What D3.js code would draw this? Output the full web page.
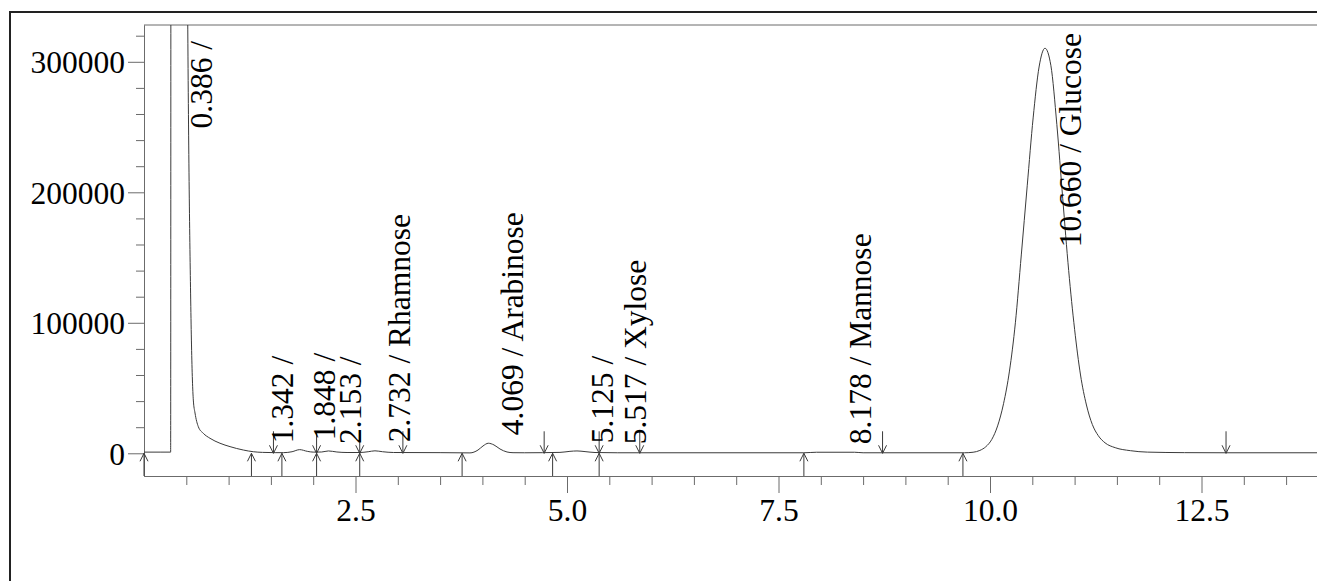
<!DOCTYPE html>
<html>
<head>
<meta charset="utf-8">
<script src="https://cdn.jsdelivr.net/npm/d3@7"></script>
<style>
  html, body { margin: 0; padding: 0; background: #fff; }
  svg { display: block; font-family: "Liberation Serif", "Times New Roman", serif; }
</style>
</head>
<body>
<div id="chart"></div>
<script>
// chromatogram trace, [retention time (min), detector response]
const trace = [
    [0.00, 900], [0.20, 900], [0.315, 900], [0.322, 1200000], [0.386, 1600000],
    [0.47, 1000000], [0.5165, 335000], [0.552, 117500], [0.5615, 83000], [0.583, 40800],
    [0.603, 30900], [0.642, 20400], [0.701, 15300], [0.780, 11500], [0.898, 7700],
    [1.017, 5100], [1.174, 2500], [1.292, 1200], [1.40, 700], [1.55, 500],
    [1.65, 500], [1.75, 1200], [1.84, 2800], [1.93, 1500], [2.00, 900],
    [2.10, 1000], [2.18, 1800], [2.28, 1000], [2.40, 600], [2.55, 600],
    [2.65, 1200], [2.73, 1900], [2.82, 1200], [2.95, 600], [3.50, 500],
    [3.853, 300], [3.948, 2500], [4.007, 5600], [4.070, 7700], [4.137, 6400],
    [4.208, 3300], [4.291, 1000], [4.362, 460], [4.50, 400], [4.917, 700],
    [5.035, 1500], [5.118, 1800], [5.213, 1300], [5.331, 600], [5.60, 400],
    [7.80, 400], [7.95, 800], [8.40, 800], [8.50, 400], [9.70, 400],
    [9.80, 800], [9.88, 2200], [9.95, 5000], [10.02, 10500], [10.09, 21000],
    [10.16, 38000], [10.23, 63000], [10.30, 100000], [10.37, 152000], [10.44, 205000],
    [10.51, 257000], [10.58, 296000], [10.65, 310400], [10.72, 297000], [10.79, 252000],
    [10.86, 195000], [10.93, 140000], [11.00, 95000], [11.07, 60000], [11.14, 37000],
    [11.21, 22000], [11.28, 13500], [11.36, 8000], [11.48, 4300], [11.66, 2000],
    [11.86, 900], [12.30, 500], [12.80, 400], [14.00, 400]
]

// peak table
const peakRT = [0.386, 1.342, 1.848, 2.153, 2.732, 4.069, 5.125, 5.517, 8.178, 10.660]
const peakName = ['', '', '', '', 'Rhamnose', 'Arabinose', '', 'Xylose', 'Mannose', 'Glucose']
const peakHeight = [1600000, 1500, 3800, 1000, 2300, 7700, 1500, 400, 800, 310400]

// integration markers
const peakStart = [0.0, 1.27, 1.63, 2.04, 2.55, 3.76, 4.83, 5.38, 7.80, 9.68]
const peakEnd = [1.53, 2.04, 2.55, 3.06, 4.73, 5.38, 5.86, 8.73, 12.79]

// ticks
const xMajor = [2.5, 5.0, 7.5, 10.0, 12.5]
const yMajor = [0, 100000, 200000, 300000]

const W = 1317
const H = 581
const FONT = 31.5
const AXIS_COLOR = '#6b6b6b'
const LINE_COLOR = '#3a3a3a'

const x = d3.scaleLinear().domain([0, 14]).range([144, 1328.4])
const y = d3.scaleLinear().domain([-17400, 328200]).range([476, 25])

const svg = d3.select('#chart').append('svg')
    .attr('width', W)
    .attr('height', H)

// outer frame
svg.append('rect')
    .attr('x', 10).attr('y', 12)
    .attr('width', 1400).attr('height', 700)
    .attr('fill', 'none')
    .attr('stroke', '#222')
    .attr('stroke-width', 2)

// plot box top edge
svg.append('line')
    .attr('x1', x(0)).attr('x2', W + 20)
    .attr('y1', y.range()[1]).attr('y2', y.range()[1])
    .attr('stroke', AXIS_COLOR)

svg.append('clipPath').attr('id', 'plot-clip')
    .append('rect')
    .attr('x', x(0)).attr('y', y.range()[1])
    .attr('width', x.range()[1] - x(0))
    .attr('height', y.range()[0] - y.range()[1])

function styleAxis (g) {
    g.selectAll('.domain').attr('stroke', AXIS_COLOR)
    g.selectAll('.tick line').attr('stroke', AXIS_COLOR)
    g.selectAll('.tick text')
        .attr('fill', '#000')
        .style('font-size', FONT + 'px')
        .style('font-family', '"Liberation Serif", "Times New Roman", serif')
}

// y axis, minor then major
svg.append('g')
    .attr('transform', `translate(${x(0)},0)`)
    .call(d3.axisLeft(y)
        .tickValues(d3.range(20000, y.domain()[1], 20000).filter(v => v % 100000 !== 0))
        .tickSize(8).tickSizeOuter(0).tickFormat(''))
    .call(styleAxis)

svg.append('g')
    .attr('transform', `translate(${x(0)},0)`)
    .call(d3.axisLeft(y).tickValues(yMajor).tickSize(16).tickSizeOuter(0)
        .tickPadding(3).tickFormat(d3.format('d')))
    .call(styleAxis)
    .call(g => g.selectAll('.tick text').attr('dy', '0.34em'))

// x axis, minor then major
svg.append('g')
    .attr('transform', `translate(0,${y.range()[0]})`)
    .call(d3.axisBottom(x)
        .tickValues(d3.range(0.5, 14, 0.5).filter(v => v % 2.5 !== 0))
        .tickSize(9).tickSizeOuter(0).tickFormat(''))
    .call(styleAxis)

svg.append('g')
    .attr('transform', `translate(0,${y.range()[0]})`)
    .call(d3.axisBottom(x).tickValues(xMajor).tickSize(17).tickSizeOuter(0)
        .tickPadding(6).tickFormat(d3.format('.1f')))
    .call(styleAxis)

// signal
const line = d3.line()
    .x(d => x(d[0]))
    .y(d => y(d[1]))
    .curve(d3.curveMonotoneX)

svg.append('g').attr('clip-path', 'url(#plot-clip)')
    .append('path')
    .datum(trace)
    .attr('d', line)
    .attr('fill', 'none')
    .attr('stroke', LINE_COLOR)
    .attr('stroke-width', 1)

// start markers (arrow up from the axis), end markers (arrow down onto the trace)
const marks = svg.append('g')
    .attr('stroke', LINE_COLOR)
    .attr('fill', 'none')
    .attr('stroke-width', 1)

marks.selectAll('path.start')
    .data(peakStart)
    .join('path')
    .attr('class', 'start')
    .attr('d', t => {
        const px = x(t), y0 = y(0)
        return `M${px},${y.range()[0]}V${y0}M${px - 4},${y0 + 8}L${px},${y0}L${px + 4},${y0 + 8}`
    })

marks.selectAll('path.end')
    .data(peakEnd)
    .join('path')
    .attr('class', 'end')
    .attr('d', t => {
        const px = x(t), y0 = y(0)
        return `M${px},${y0 - 22}V${y0}M${px - 4},${y0 - 8}L${px},${y0}L${px + 4},${y0 - 8}`
    })

// peak labels, rotated, pushed down when they would run off the top
const peaks = peakRT.map((rt, i) => ({ rt: rt, name: peakName[i], h: peakHeight[i] }))

svg.append('g').selectAll('text')
    .data(peaks)
    .join('text')
    .style('white-space', 'pre')
    .style('font-size', FONT + 'px')
    .attr('fill', '#000')
    .text(d => `${d.rt.toFixed(3)} / ${d.name}`)
    .each(function (d) {
        const len = this.getComputedTextLength()
        let base = Math.min(y(d.h) - 8, y(0) - 9)
        base = Math.max(base, y.range()[1] + 8 + len)
        d3.select(this).attr('transform', `translate(${x(d.rt) + 35},${base}) rotate(-90)`)
    })
</script>
</body>
</html>
